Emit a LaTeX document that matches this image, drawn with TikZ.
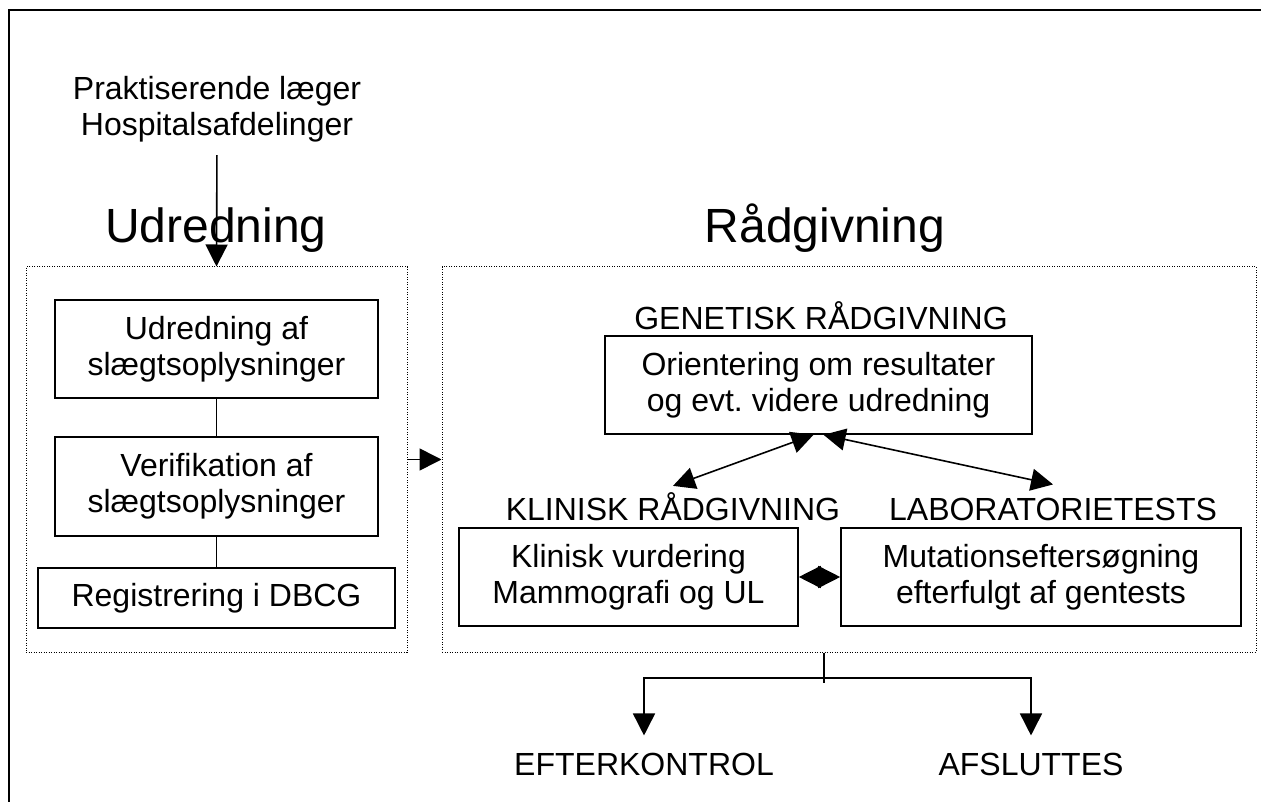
\documentclass[tikz,border=0pt]{standalone}
\usepackage{fontspec}
\setmainfont{Liberation Sans}
\usetikzlibrary{arrows.meta}
\frenchspacing
\begin{document}
\begin{tikzpicture}[x=1pt,y=-1pt,
  txt/.style={font=\fontsize{32}{36}\selectfont, inner sep=0pt, align=center},
  big/.style={font=\fontsize{48}{54}\selectfont, inner sep=0pt},
  box/.style={txt, draw, line width=1.6pt},
  group/.style={draw, line width=1pt, dash pattern=on 1pt off 1.5pt},
  conn/.style={line width=1.6pt},
  >={Triangle[length=22pt,width=22pt]}]
\useasboundingbox (0,0) rectangle (1261,802);

% outer frame
\draw[line width=1.6pt] (9,802) -- (9,10) -- (1261,10);

% referrers and the two phase headings
\node[txt] (src) at (217,109) {Praktiserende læger\\Hospitalsafdelinger};
\node[big, anchor=base] (hUd) at (216,243) {Udredning};
\node[big, anchor=base] (hRaad) at (825,243) {Rådgivning};

% dotted phase groups
\node[group, minimum width=381pt, minimum height=385pt] (ldot) at (216.5,459.5) {};
\node[group, minimum width=814pt, minimum height=385pt] (rdot) at (849,459.5) {};

% Udredning steps
\node[box, minimum width=323pt, minimum height=98pt] (b1) at (216.5,349) {Udredning af\\slægtsoplysninger};
\node[box, minimum width=323pt, minimum height=99pt] (b2) at (216.5,486.5) {Verifikation af\\slægtsoplysninger};
\node[box, minimum width=357pt, minimum height=60pt] (b3) at (216.5,598) {Registrering i DBCG};

% Rådgivning parts
\node[txt, anchor=base] (lGen) at (821,330) {GENETISK RÅDGIVNING};
\node[box, minimum width=427pt, minimum height=98pt] (orient) at (818.5,385) {Orientering om resultater\\og evt. videre udredning};
\node[txt, anchor=base] (lKlin) at (673,520) {KLINISK RÅDGIVNING};
\node[txt, anchor=base] (lLab) at (1053,520) {LABORATORIETESTS};
\node[box, minimum width=339pt, minimum height=98pt] (klin) at (628.5,577) {Klinisk vurdering\\Mammografi og UL};
\node[box, minimum width=400pt, minimum height=98pt] (mut) at (1041,577) {Mutationseftersøgning\\efterfulgt af gentests};

% outcomes
\node[txt, anchor=base] (ek) at (644,775) {EFTERKONTROL};
\node[txt, anchor=base] (af) at (1031,775) {AFSLUTTES};
\coordinate (split) at (824,678);

% connectors
\draw[conn, ->, shorten <=13pt] (src.south) -- (ldot.north);
\draw[conn] (b1) -- (b2);
\draw[conn] (b2) -- (b3);
\draw[conn, ->] (ldot.east) -- (rdot.west);
\draw[conn, <->] ([xshift=-5pt]orient.south) -- ([yshift=6pt]lKlin.north);
\draw[conn, <->] ([xshift=5pt]orient.south) -- ([yshift=13pt]lLab.north);
\draw[conn, <->] (klin.east) -- (mut.west);
\draw[conn] (split |- rdot.south) -- ([yshift=-5pt]split);
\draw[conn, ->, shorten >=17pt] (split) -| (ek.north);
\draw[conn, ->, shorten >=17pt] (split) -| (af.north);
\end{tikzpicture}
\end{document}
